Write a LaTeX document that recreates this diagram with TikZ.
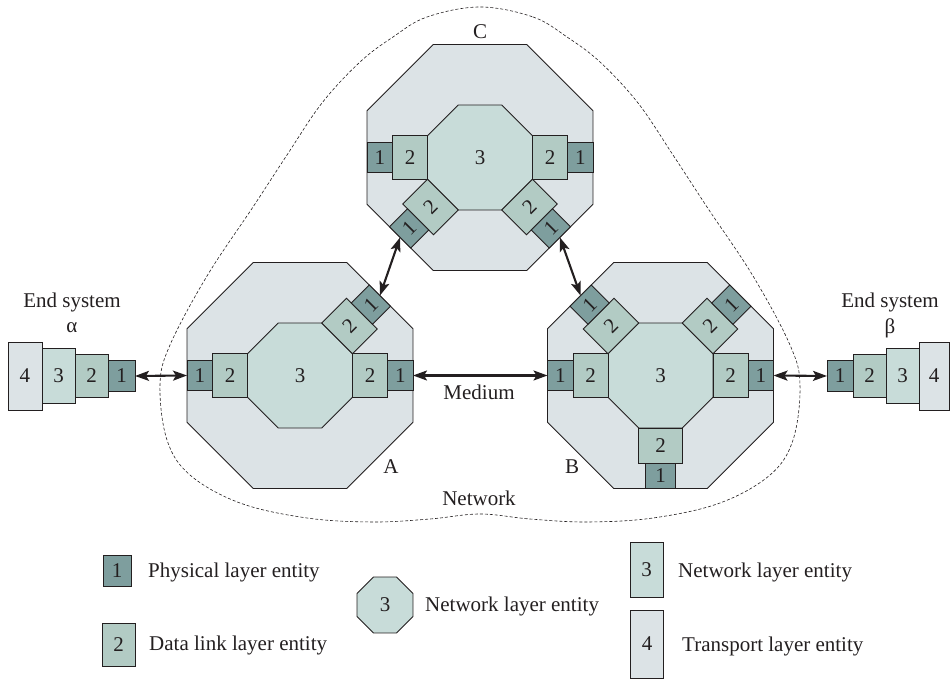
\documentclass[tikz,border=0pt]{standalone}
\usepackage{fontspec}
\setmainfont{Liberation Serif}
\usetikzlibrary{shapes.geometric,calc,arrows.meta}
\definecolor{phys}{HTML}{7E9E9E}
\definecolor{dlink}{HTML}{B2CBC4}
\definecolor{netw}{HTML}{C8DCD9}
\definecolor{trans}{HTML}{DCE3E6}
\definecolor{ink}{HTML}{231F20}
\tikzset{
  every node/.style={font=\fontsize{21}{24}\selectfont, text=ink},
  box/.style={draw=ink, line width=0.9pt, inner sep=0pt, outer sep=0pt, rectangle},
  physbox/.style={box, fill=phys},
  dlbox/.style={box, fill=dlink},
  nwbox/.style={box, fill=netw},
  trbox/.style={box, fill=trans},
  octbase/.style={draw=ink, line width=0.9pt, regular polygon, regular polygon sides=8, inner sep=0pt, outer sep=0pt},
  outeroct/.style={octbase, fill=trans, minimum size=244.6pt},
  inneroct/.style={octbase, fill=netw, minimum size=113.6pt},
  legoct/.style={octbase, fill=netw, minimum size=60.6pt},
  biarrow/.style={draw=ink, line width=2.1pt, {Stealth[length=14pt,width=10pt,inset=3pt]}-{Stealth[length=14pt,width=10pt,inset=3pt]}},
  netline/.style={draw=ink, line width=0.6pt, dash pattern=on 3pt off 2pt},
  lbl/.style={inner sep=0pt},
}
% port whose radial direction is the node's x axis
\newcommand\portH[4]{%
  \node[dlbox, rotate=#4, minimum width=35pt, minimum height=43.5pt] (#1-2) at ($(#2)+(#3:70pt)$) {2};
  \node[physbox, rotate=#4, minimum width=25.5pt, minimum height=30pt] (#1-1) at ($(#2)+(#3:100.25pt)$) {1};}
% port whose radial direction is the node's y axis
\newcommand\portV[4]{%
  \node[dlbox, rotate=#4, minimum height=35pt, minimum width=43.5pt] (#1-2) at ($(#2)+(#3:70pt)$) {2};
  \node[physbox, rotate=#4, minimum height=25.5pt, minimum width=30pt] (#1-1) at ($(#2)+(#3:100.25pt)$) {1};}
\begin{document}
\begin{tikzpicture}[x=1pt,y=1pt]
\useasboundingbox (0,0) rectangle (950,679);
% network boundary
\draw[netline] plot[smooth cycle, tension=0.6] coordinates {
 (480,672) (533,662) (567,642) (600,617) (638,576) (673,524) (707,472) (753,403)
 (790,334) (800,294) (793,239) (770,204) (720,176) (653,161) (587,157) (530,160)
 (480,165) (430,160) (373,157) (307,161) (240,176) (190,204) (167,239) (160,294)
 (170,334) (207,403) (253,472) (287,524) (322,576) (360,617) (393,642) (427,662)};
% system A
\node[outeroct] (A) at (300,303.5) {};
\node[inneroct] (A3) at (A) {3};
\portH{A-w}{A}{180}{0}
\portH{A-e}{A}{0}{0}
\portH{A-ne}{A}{45}{45}
% system B
\node[outeroct] (B) at (660.5,303.5) {};
\node[inneroct] (B3) at (B) {3};
\portH{B-w}{B}{180}{0}
\portH{B-e}{B}{0}{0}
\portV{B-nw}{B}{135}{45}
\portH{B-ne}{B}{45}{45}
\portV{B-s}{B}{270}{0}
% system C
\node[outeroct] (C) at (480,521.5) {};
\node[inneroct] (C3) at (C) {3};
\portH{C-w}{C}{180}{0}
\portH{C-e}{C}{0}{0}
\portH{C-sw}{C}{225}{45}
\portV{C-se}{C}{315}{45}
% end system alpha
\node[trbox, minimum width=34pt, minimum height=68pt] (al4) at (25,303) {4};
\node[nwbox, minimum width=33pt, minimum height=55pt] (al3) at (58.5,303) {3};
\node[dlbox, minimum width=33pt, minimum height=43pt] (al2) at (91.5,303) {2};
\node[physbox, minimum width=27pt, minimum height=31pt] (al1) at (121.5,303) {1};
% end system beta
\node[physbox, minimum width=26pt, minimum height=31pt] (be1) at (840,303) {1};
\node[dlbox, minimum width=33pt, minimum height=43pt] (be2) at (869.5,303) {2};
\node[nwbox, minimum width=33pt, minimum height=55pt] (be3) at (902.5,303) {3};
\node[trbox, minimum width=30pt, minimum height=68pt] (be4) at (934,303) {4};
% labels
\node[lbl] (tAl1) at (72,377) {End system};
\node[lbl] (tAl2) at (72,351) {α};
\node[lbl] (tBe1) at (890,377) {End system};
\node[lbl] (tBe2) at (890,351) {β};
\node[lbl] (tC) at (480,647) {C};
\node[lbl] (tA) at (391,212) {A};
\node[lbl] (tB) at (572,212) {B};
\node[lbl] (tNet) at (479,181) {Network};
\node[lbl] (tMed) at (479,287) {Medium};
% connectors
\draw[biarrow] (al1.east) -- (A-w-1.west);
\draw[biarrow] (A-e-1.east) -- (B-w-1.west);
\draw[biarrow] (B-e-1.east) -- (be1.west);
\draw[biarrow] (C-sw-1.west) -- (A-ne-1.east);
\draw[biarrow] (C-se-1.south) -- (B-nw-1.north);
% legend
\node[physbox, minimum width=28pt, minimum height=31pt] (L1) at (117,108.5) {1};
\node[lbl, anchor=west] (L1t) at (148,107) {Physical layer entity};
\node[dlbox, minimum width=33pt, minimum height=43pt] (L2) at (118.5,34.5) {2};
\node[lbl, anchor=west] (L2t) at (149,34) {Data link layer entity};
\node[legoct] (L3o) at (385,74) {3};
\node[lbl, anchor=west] (L3ot) at (425,73) {Network layer entity};
\node[nwbox, minimum width=33pt, minimum height=55pt] (L3) at (646.5,109.5) {3};
\node[lbl, anchor=west] (L3t) at (678,107) {Network layer entity};
\node[trbox, minimum width=33pt, minimum height=68pt] (L4) at (647,35) {4};
\node[lbl, anchor=west] (L4t) at (682,33) {Transport layer entity};
\end{tikzpicture}
\end{document}
